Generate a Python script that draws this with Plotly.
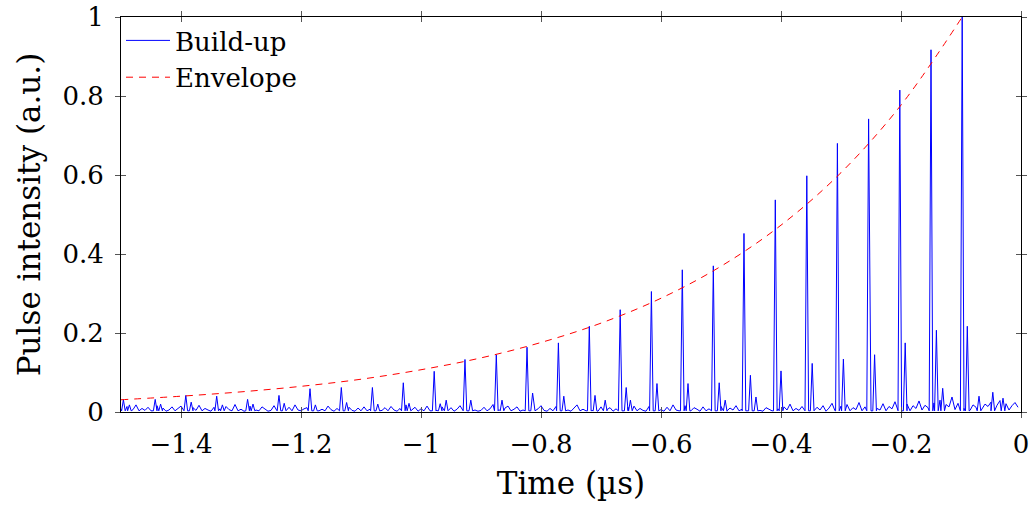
import plotly.graph_objects as go

# ---------------- data ----------------
main_peak_t = [-0.098, -0.150, -0.202, -0.254, -0.306, -0.357, -0.4095, -0.4617,
               -0.5128, -0.5645, -0.616, -0.668, -0.7195, -0.771, -0.8233, -0.8745,
               -0.9267, -0.978, -1.0295, -1.081, -1.1328, -1.185, -1.2367, -1.289,
               -1.3405, -1.392, -1.443, -1.496]
main_peak_h = [1.0, 0.917, 0.815, 0.742, 0.680, 0.598, 0.537, 0.452,
               0.37, 0.36, 0.305, 0.259, 0.217, 0.175, 0.164, 0.145,
               0.133, 0.103, 0.074, 0.062, 0.062, 0.059, 0.042, 0.032,
               0.040, 0.042, 0.032, 0.031]

sec_peak_t = [-0.0895, -0.141, -0.193, -0.244, -0.296, -0.348, -0.400, -0.451,
              -0.503, -0.555, -0.6067, -0.658, -0.710, -0.762, -0.814, -0.865,
              -0.917, -0.968, -1.020, -1.072, -1.124, -1.176, -1.228, -1.280,
              -1.331, -1.383, -1.434, -1.486]
sec_peak_h = [0.217, 0.207, 0.175, 0.145, 0.134, 0.123, 0.104, 0.093,
              0.074, 0.072, 0.072, 0.062, 0.042, 0.040, 0.048, 0.030,
              0.030, 0.021, 0.022, 0.020, 0.024, 0.018, 0.022, 0.020,
              0.018, 0.025, 0.020, 0.018]

bump_t = [-0.4417, -0.1305, -0.047, -0.958, -0.693, -0.651, -0.493, -0.070, -0.030]
bump_h = [0.038, 0.060, 0.050, 0.030, 0.030, 0.030, 0.030, 0.040, 0.035]

noise_start = -1.5
noise_step = 0.005
noise_milli = [
    8, 3, 14, 4, 6, 18, 3, 9, 4, 12,
    3, 7, 16, 3, 10, 2, 5, 13, 3, 8,
    15, 3, 6, 2, 11, 4, 17, 3, 9, 5,
    2, 12, 4, 8, 3, 14, 6, 3, 19, 3,
    7, 2, 10, 15, 3, 5, 3, 13, 8, 2,
    4, 16, 3, 9, 6, 2, 12, 3, 18, 5,
    3, 8, 11, 2, 4, 14, 3, 7, 3, 15,
    6, 2, 9, 17, 3, 5, 12, 4, 2, 10,
    3, 13, 3, 7, 16, 2, 8, 4, 11, 3,
    14, 5, 2, 9, 3, 18, 3, 6, 12, 2,
    8, 3, 15, 3, 10, 4, 2, 13, 6, 3,
    11, 2, 7, 16, 3, 9, 3, 14, 5, 2,
    4, 12, 3, 8, 19, 3, 6, 2, 10, 15,
    3, 7, 13, 2, 5, 11, 3, 17, 3, 8,
    16, 4, 2, 9, 3, 14, 6, 3, 12, 5,
    2, 10, 18, 3, 7, 3, 15, 4, 9, 2,
    13, 3, 6, 11, 2, 8, 17, 3, 5, 12,
    3, 15, 3, 9, 4, 2, 14, 7, 3, 10,
    6, 2, 12, 3, 18, 5, 3, 9, 16, 4,
    3, 11, 7, 2, 13, 3, 8, 19, 3, 6,
    14, 4, 2, 10, 5, 16, 3, 7, 12, 3,
    9, 3, 17, 4, 2, 11, 6, 3, 15, 8,
    2, 13, 5, 20, 3, 9, 4, 14, 3, 18,
    7, 3, 12, 5, 16, 2, 10, 22, 3, 8,
    15, 4, 19, 3, 11, 6, 24, 3, 13, 7,
    3, 18, 9, 5, 21, 3, 14, 8, 26, 4,
    12, 6, 20, 3, 16, 9, 28, 5, 17, 11,
    4, 23, 10, 30, 7, 19, 13, 38, 6, 22,
    15, 9, 27, 4, 18, 12, 33, 8, 20, 14,
    25, 6, 17, 29, 10, 21, 5, 16, 24, 12,
]

env_t = [-1.5, -1.4, -1.3, -1.2, -1.1, -1.0, -0.9, -0.8, -0.7, -0.6,
         -0.5, -0.4, -0.3, -0.2, -0.098]
env_y = [0.031, 0.040, 0.051, 0.065, 0.083, 0.107, 0.137, 0.176, 0.225, 0.288,
         0.369, 0.473, 0.606, 0.777, 1.0]

x_tickvals = [-1.4, -1.2, -1.0, -0.8, -0.6, -0.4, -0.2, 0.0]
x_ticktext = ["\u22121.4", "\u22121.2", "\u22121", "\u22120.8", "\u22120.6",
              "\u22120.4", "\u22120.2", "0"]
y_tickvals = [0, 0.2, 0.4, 0.6, 0.8, 1.0]
y_ticktext = ["0", "0.2", "0.4", "0.6", "0.8", "1"]

# ---------------- assemble the build-up trace ----------------
half_w = 0.003
peaks = list(zip(main_peak_t, main_peak_h)) + list(zip(sec_peak_t, sec_peak_h)) + \
    list(zip(bump_t, bump_h))
pts = []
for t, h in peaks:
    pts += [(t - half_w, 0.003), (t, h), (t + half_w, 0.003)]
for i, v in enumerate(noise_milli):
    t = noise_start + i * noise_step
    if all(abs(t - pt) > half_w for pt, _ in peaks):
        pts.append((t, v / 1000.0))
pts.sort()
bx = [p[0] for p in pts]
by = [p[1] for p in pts]

FONT = "'DejaVu Serif', 'Liberation Serif', serif"
FS = 26

fig = go.Figure()
fig.add_trace(go.Scatter(x=bx, y=by, mode="lines", name="Build-up",
                         line=dict(color="#0000ff", width=1)))
fig.add_trace(go.Scatter(x=env_t, y=env_y, mode="lines", name="Envelope",
                         line=dict(color="#ff0000", width=1, dash="7px,6px",
                                   shape="spline")))
# helper trace for inner tick axes
fig.add_trace(go.Scatter(x=[None], y=[None], xaxis="x2", yaxis="y2",
                         showlegend=False, hoverinfo="skip"))

axis_common = dict(showgrid=False, zeroline=False, ticklen=5, tickwidth=1,
                   tickcolor="#555555", automargin=False)
fig.update_layout(
    width=1036, height=507,
    margin=dict(l=121, r=15, t=17, b=95),
    paper_bgcolor="white", plot_bgcolor="white",
    font=dict(family=FONT, size=FS, color="black"),
    xaxis=dict(range=[-1.5, 0], tickvals=x_tickvals, ticktext=x_ticktext,
               ticks="outside", showline=True, linecolor="black", linewidth=1,
               mirror="ticks", title=dict(text="Time (\u00b5s)", standoff=14),
               ticklabelstandoff=4, **axis_common),
    yaxis=dict(range=[0, 1], tickvals=y_tickvals, ticktext=y_ticktext,
               ticks="outside", showline=True, linecolor="black", linewidth=1,
               mirror="ticks", title=dict(text="Pulse intensity (a.u.)", standoff=12),
               ticklabelstandoff=6, **axis_common),
    xaxis2=dict(range=[-1.5, 0], tickvals=x_tickvals, ticks="inside",
                showticklabels=False, overlaying="x", anchor="y2", side="bottom",
                showline=False, mirror="ticks", **axis_common),
    yaxis2=dict(range=[0, 1], tickvals=y_tickvals, ticks="inside",
                showticklabels=False, overlaying="y", anchor="x2", side="left",
                showline=False, mirror="ticks", **axis_common),
    legend=dict(x=0.0, y=1.0, xanchor="left", yanchor="top",
                bgcolor="rgba(0,0,0,0)", borderwidth=0, itemwidth=44,
                font=dict(family=FONT, size=FS), tracegroupgap=0),
    showlegend=True,
)

fig.write_html("out.html")
